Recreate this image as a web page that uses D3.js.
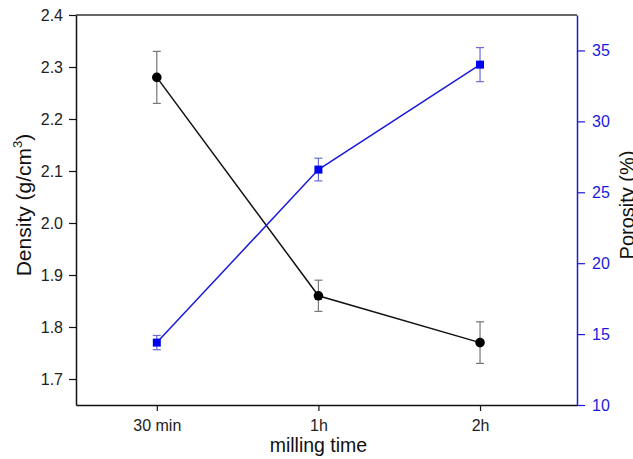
<!DOCTYPE html>
<html>
<head>
<meta charset="utf-8">
<script src="https://cdn.jsdelivr.net/npm/d3@7"></script>
<style>
  body { margin: 0; background: #fff; }
  svg { display: block; font-family: "Liberation Sans", Arial, sans-serif; }
</style>
</head>
<body>
<svg id="chart" width="633" height="459"></svg>
<script>
// data
var categories = ["30 min", "1h", "2h"];
var density = [2.28, 1.86, 1.77];
var densityErr = [0.05, 0.03, 0.04];
var porosity = [14.4, 26.6, 34.0];
var porosityErr = [0.5, 0.8, 1.2];
var densityTicks = [1.7, 1.8, 1.9, 2.0, 2.1, 2.2, 2.3, 2.4];
var porosityTicks = [10, 15, 20, 25, 30, 35];

var svg = d3.select("#chart");
var margin = { top: 15, right: 56, bottom: 54, left: 76 };
var width = 633 - margin.left - margin.right,
  height = 459 - margin.top - margin.bottom;

var blue = "#1a1adc";

// positions 1..3, with some padding each side
var x = d3.scaleLinear().domain([0.5, 3.6]).range([0, width]);
var yL = d3.scaleLinear().domain([1.65, 2.4]).range([height, 0]);
var yR = d3.scaleLinear().domain([10, 37.5]).range([height, 0]);

var g = svg.append("g")
  .attr("transform", "translate(" + margin.left + "," + margin.top + ")");

// top frame line
g.append("line")
  .attr("x1", 0).attr("x2", width)
  .attr("y1", 0).attr("y2", 0)
  .attr("stroke", "#333").attr("stroke-width", 1.5);

// bottom axis
var gX = g.append("g")
  .attr("transform", "translate(0," + height + ")")
  .call(d3.axisBottom(x)
    .tickValues([1, 2, 3])
    .tickFormat(function (d) { return categories[d - 1]; })
    .tickSize(6).tickSizeOuter(0));
gX.select(".domain").attr("stroke", "#111").attr("stroke-width", 1.5);
gX.selectAll(".tick line").attr("stroke", "#111").attr("stroke-width", 1.2);
gX.selectAll("text").attr("font-size", 16).attr("fill", "#222")
  .attr("y", 26).attr("dy", 0);

// left axis
var gY = g.append("g")
  .call(d3.axisLeft(yL)
    .tickValues(densityTicks)
    .tickFormat(d3.format(".1f"))
    .tickSize(7).tickSizeOuter(0));
gY.select(".domain").attr("stroke", "#111").attr("stroke-width", 1.5);
gY.selectAll(".tick line").attr("stroke", "#111").attr("stroke-width", 1.2);
gY.selectAll("text").attr("font-size", 16).attr("fill", "#222").attr("x", -13);

// right axis
var gR = g.append("g")
  .attr("transform", "translate(" + width + ",0)")
  .call(d3.axisRight(yR)
    .tickValues(porosityTicks)
    .tickSize(8).tickSizeOuter(0));
gR.select(".domain").attr("stroke", blue).attr("stroke-width", 1.5);
gR.selectAll(".tick line").attr("stroke", blue).attr("stroke-width", 1.2);
gR.selectAll("text").attr("font-size", 16).attr("fill", blue).attr("x", 15);

// axis titles
var tL = svg.append("text")
  .attr("transform", "translate(31," + 205 + ") rotate(-90)")
  .attr("text-anchor", "middle")
  .attr("font-size", 21)
  .attr("fill", "#111");
tL.append("tspan").text("Density (g/cm");
tL.append("tspan").attr("font-size", 13).attr("dy", -9).text("3");
tL.append("tspan").attr("dy", 9).text(")");

svg.append("text")
  .attr("transform", "translate(634," + 205 + ") rotate(-90)")
  .attr("text-anchor", "middle")
  .attr("font-size", 20)
  .attr("fill", "#111")
  .text("Porosity (%)");

svg.append("text")
  .attr("x", margin.left + x(2))
  .attr("y", 452)
  .attr("text-anchor", "middle")
  .attr("font-size", 19.5)
  .attr("fill", "#111")
  .text("milling time");

var idx = [0, 1, 2];
var line = d3.line();

function errorBars(vals, errs, y, color, cap) {
  var eb = g.append("g");
  idx.forEach(function (i) {
    var cx = x(i + 1);
    eb.append("line")
      .attr("x1", cx).attr("x2", cx)
      .attr("y1", y(vals[i] + errs[i])).attr("y2", y(vals[i] - errs[i]))
      .attr("stroke", color).attr("stroke-width", 1.2);
    [vals[i] + errs[i], vals[i] - errs[i]].forEach(function (v) {
      eb.append("line")
        .attr("x1", cx - cap).attr("x2", cx + cap)
        .attr("y1", y(v)).attr("y2", y(v))
        .attr("stroke", color).attr("stroke-width", 1.2);
    });
  });
}

// density series
errorBars(density, densityErr, yL, "#777", 4);
g.append("path")
  .attr("d", line(idx.map(function (i) { return [x(i + 1), yL(density[i])]; })))
  .attr("fill", "none").attr("stroke", "#111").attr("stroke-width", 1.5);
g.selectAll(".dot").data(idx).enter().append("circle")
  .attr("cx", function (i) { return x(i + 1); })
  .attr("cy", function (i) { return yL(density[i]); })
  .attr("r", 4.8).attr("fill", "#000");

// porosity series
errorBars(porosity, porosityErr, yR, "#6a6ad8", 4);
g.append("path")
  .attr("d", line(idx.map(function (i) { return [x(i + 1), yR(porosity[i])]; })))
  .attr("fill", "none").attr("stroke", blue).attr("stroke-width", 1.5);
g.selectAll(".sq").data(idx).enter().append("rect")
  .attr("x", function (i) { return x(i + 1) - 4; })
  .attr("y", function (i) { return yR(porosity[i]) - 4; })
  .attr("width", 8).attr("height", 8).attr("fill", "#0000f0");
</script>
</body>
</html>
